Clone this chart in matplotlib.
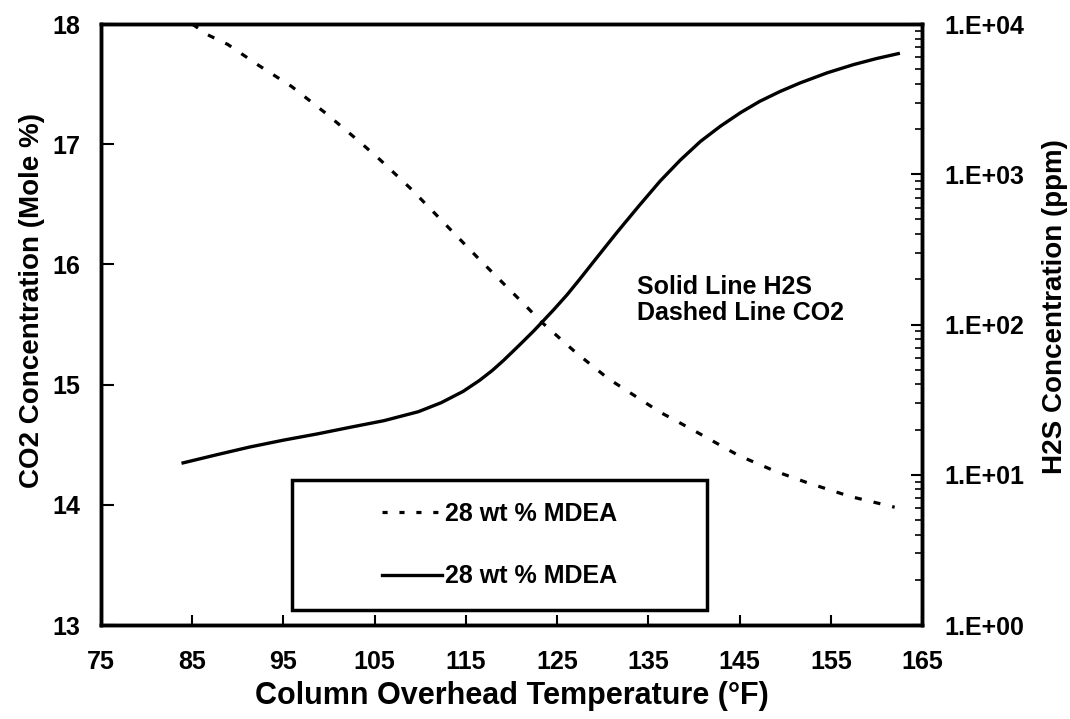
import numpy as np
import matplotlib
matplotlib.use("Agg")
import matplotlib.pyplot as plt
from matplotlib import font_manager
from matplotlib.lines import Line2D
from matplotlib.patches import Rectangle
from matplotlib.ticker import FixedLocator, FuncFormatter, LogLocator, NullFormatter

plt.rcParams['font.family'] = ['Liberation Sans', 'DejaVu Sans']
plt.rcParams['font.weight'] = 'bold'

# tick labels in the original look condensed
installed = {f.name for f in font_manager.fontManager.ttflist}
if 'Liberation Sans Narrow' in installed:
    TICK_FONT, TICK_SIZE = 'Liberation Sans Narrow', 20
else:
    TICK_FONT, TICK_SIZE = 'Liberation Sans', 18

# ---------------- data ----------------
# CO2 (left axis, mole %) - dashed line
co2_temp = [85, 86.7, 88.9, 92.2, 95.9, 99.6, 103.2, 105.6, 109.1, 110.5, 116.5,
            121.5, 123.3, 127.0, 130.6, 136.3, 138.5, 140.9, 144.9, 148.9, 152.2,
            157.1, 162.0]
co2_mole = [18.0, 17.91, 17.83, 17.66, 17.48, 17.26, 17.03, 16.87, 16.62, 16.51, 16.04,
            15.66, 15.52, 15.27, 15.05, 14.77, 14.68, 14.58, 14.41, 14.28, 14.19,
            14.07, 13.98]

# H2S (right axis, ppm, log scale) - solid line
h2s_temp = [84.0, 87.7, 91.3, 95.0, 98.7, 102.3, 106.0, 109.8, 112.3, 114.7,
            116.5, 117.9, 119.1, 120.9, 122.4, 123.3, 124.6, 126.1, 127.5, 129.0,
            130.4, 131.5, 132.4, 134.0, 136.3, 138.5, 140.7, 142.9, 145.1, 147.2,
            149.4, 151.6, 154.6, 157.5, 160.0, 162.4]
h2s_ppm = [12.0, 13.6, 15.3, 17.0, 18.7, 20.7, 22.9, 26.3, 30.2, 35.9,
           42.5, 49.5, 57.5, 73.3, 90.2, 103, 125, 158, 201, 262,
           335, 406, 473, 619, 902, 1242, 1652, 2089, 2570, 3055,
           3548, 4046, 4732, 5370, 5888, 6353]

x_ticks = [75, 85, 95, 105, 115, 125, 135, 145, 155, 165]
left_ticks = [13, 14, 15, 16, 17, 18]
right_ticks = [1, 10, 100, 1000, 10000]

legend_label = "28 wt % MDEA"

# ---------------- figure ----------------
fig = plt.figure(figsize=(10.70, 7.19), dpi=100)
ax = fig.add_axes([0.0944, 0.1307, 0.7673, 0.8359])
ax2 = ax.twinx()

ax.plot(co2_temp, co2_mole, color='black', linewidth=2.3, linestyle=(0, (2.2, 3.8)))
line_h2s, = ax2.plot(h2s_temp, h2s_ppm, color='black', linewidth=2.4)

ax.set_xlim(75, 165)
ax.set_ylim(13, 18)
ax2.set_yscale('log')
ax2.set_ylim(1, 10000)

ax.xaxis.set_major_locator(FixedLocator(x_ticks))
ax.yaxis.set_major_locator(FixedLocator(left_ticks))
ax2.yaxis.set_major_locator(FixedLocator(right_ticks))
ax2.yaxis.set_minor_locator(LogLocator(base=10, subs=np.arange(2, 10)))
ax2.yaxis.set_minor_formatter(NullFormatter())
ax2.yaxis.set_major_formatter(
    FuncFormatter(lambda v, p: "1.E+%02d" % int(round(np.log10(v)))))

ax.tick_params(axis='x', direction='in', length=7, width=1.5, pad=18, top=False)
ax.tick_params(axis='y', direction='in', length=9, width=1.5, pad=15)
ax2.tick_params(axis='y', which='major', direction='in', length=8, width=1.5, pad=16)
ax2.tick_params(axis='y', which='minor', direction='in', length=5, width=1.2)

for lbl in ax.get_xticklabels() + ax.get_yticklabels() + ax2.get_yticklabels():
    lbl.set_family(TICK_FONT)
    lbl.set_fontsize(TICK_SIZE)
    lbl.set_fontweight('bold')

for a in (ax, ax2):
    for s in a.spines.values():
        s.set_linewidth(2.5)

ax.set_xlabel("Column Overhead Temperature (°F)", fontsize=22, fontweight='bold', labelpad=5)
ax.set_ylabel("CO2 Concentration (Mole %)", fontsize=20, fontweight='bold')
ax2.set_ylabel("H2S Concentration (ppm)", fontsize=20, fontweight='bold')
ax.yaxis.set_label_coords(-0.068, 0.54)
ax2.yaxis.set_label_coords(1.146, 0.53)

# note
ax.text(0.653, 0.582, "Solid Line H2S\nDashed Line CO2", transform=ax.transAxes,
        fontsize=18, fontweight='bold', ha='left', va='top', linespacing=1.1)

# legend box (dashed sample drawn with shorter dashes, like the original)
co2_handle = Line2D([], [], color='black', linewidth=2.3, linestyle=(0, (1.6, 3.7)))
ax.add_patch(Rectangle((0.2326, 0.025), 0.5055, 0.216, transform=ax.transAxes,
                       facecolor='white', edgecolor='black', linewidth=2.5, zorder=5))
leg = ax.legend([co2_handle, line_h2s], [legend_label, legend_label],
                loc='center', bbox_to_anchor=(0.2326, 0.025, 0.5055, 0.216),
                frameon=False, fontsize=18, handlelength=2.4, handletextpad=0.1,
                labelspacing=1.55)
leg.set_zorder(6)

fig.savefig("out.png", dpi=100)
